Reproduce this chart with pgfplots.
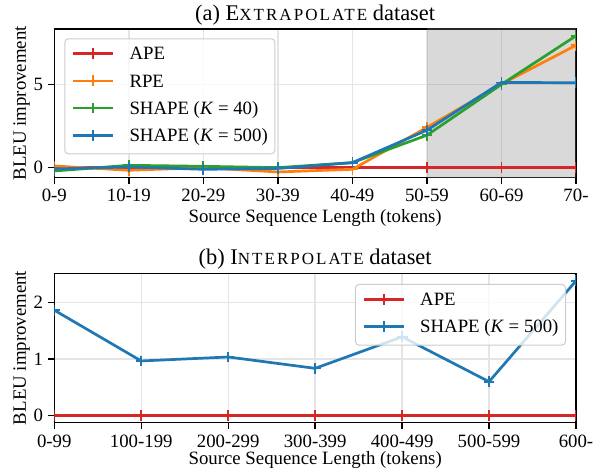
\documentclass[border=0pt]{standalone}
\usepackage{fontspec}
\setmainfont{Liberation Serif}
\usepackage{pgfplots}
\pgfplotsset{compat=1.18}
\usepackage{pgfplotstable}
\definecolor{cred}{HTML}{D62728}
\definecolor{corange}{HTML}{FF7F0E}
\definecolor{cgreen}{HTML}{2CA02C}
\definecolor{cblue}{HTML}{1F77B4}
\newcommand{\fsc}[1]{{\fontsize{17}{20}\selectfont\addfontfeature{LetterSpace=12}#1}}
\newcommand{\Keq}[1]{(\textit{K}\hspace{0.25em}=\hspace{0.25em}#1)}

\pgfplotstableread{
x ape rpe kforty kfivehundred
0 0 0.10 -0.20 -0.08
1 0 -0.16 0.14 0.04
2 0 0.00 0.08 -0.10
3 0 -0.26 0.00 -0.05
4 0 -0.10 0.30 0.30
5 0 2.42 1.95 2.25
6 0 5.02 5.00 5.12
7 0 7.35 7.92 5.10
}\extrap

\pgfplotstableread{
x ape kfivehundred
0 0 1.86
1 0 0.965
2 0 1.035
3 0 0.835
4 0 1.39
5 0 0.60
6 0 2.376
}\interp

\pgfplotsset{
  common/.style={
    scale only axis, width=521.7pt, anchor=south west,
    tick align=outside, tick pos=left, major tick length=6.3pt,
    every tick/.style={black, line width=1.4pt},
    axis line style={black, line width=1.4pt},
    grid=major, major grid style={black!10, line width=1.4pt},
    xticklabel style={anchor=base, yshift=-18.1pt},
    yticklabel style={anchor=east, inner sep=0pt, xshift=-4.7pt},
    /pgf/number format/assume math mode=true,
    clip marker paths=true,
    every axis title shift=0pt,
    title style={at={(axis description cs:0.5,1)}, anchor=base, inner sep=0pt, yshift=8.7pt, font=\fontsize{22.4}{26}\selectfont},
    ylabel style={at={(axis description cs:-0.0543,0.5)}, anchor=base, inner sep=0pt},
    legend style={fill=white, fill opacity=0.8, text opacity=1, draw=black!20, line width=1pt,
      rounded corners=3.5pt, inner xsep=7pt, inner ysep=8.2pt,
      nodes={inner sep=0pt, text height=13pt, text depth=4pt},
      cells={anchor=base west}, row sep=10.2pt, column sep=15pt},
    legend image code/.code={\draw[mark repeat=2,mark phase=2,#1] plot coordinates {(0pt,6.3pt)(20pt,6.3pt)(40pt,6.3pt)};},
  },
  ser/.style={color=#1, line width=2.7pt, mark=+, mark size=5.4pt, mark options={line width=1.8pt, solid}},
}

\begin{document}
\begin{tikzpicture}[font=\fontsize{18.8}{22.5}\selectfont]
\useasboundingbox (0,0) rectangle (602pt,473pt);
\begin{axis}[common, at={(54.3pt,295.7pt)}, height=148.3pt,
  xmin=0, xmax=7, ymin=-0.58, ymax=8.33,
  xtick={0,1,2,3,4,5,6,7},
  xticklabels={0-9,10-19,20-29,30-39,40-49,50-59,60-69,70-},
  ytick={0,5},
  title={(a) E\fsc{XTRAPOLATE} dataset},
  xlabel={Source Sequence Length (tokens)},
  xlabel style={at={(axis description cs:0.5,0)}, anchor=base, inner sep=0pt, yshift=-45.7pt},
  ylabel={BLEU improvement},
  legend style={at={(axis description cs:0,1)}, anchor=north west, xshift=10pt, yshift=-9.3pt},
]
\addplot[draw=none, fill=gray, fill opacity=0.3, forget plot] coordinates {(5,-1) (7,-1) (7,9) (5,9)} -- cycle;
\addplot[ser=cred] table[x=x, y=ape] {\extrap};
\addlegendentry{APE}
\addplot[ser=corange] table[x=x, y=rpe] {\extrap};
\addlegendentry{RPE}
\addplot[ser=cgreen] table[x=x, y=kforty] {\extrap};
\addlegendentry{SHAPE \Keq{40}}
\addplot[ser=cblue] table[x=x, y=kfivehundred] {\extrap};
\addlegendentry{SHAPE \Keq{500}}
\end{axis}

\begin{axis}[common, at={(54.3pt,50.3pt)}, height=149.4pt,
  xmin=0, xmax=6, ymin=-0.123, ymax=2.51,
  xtick={0,1,2,3,4,5,6},
  xticklabels={0-99,100-199,200-299,300-399,400-499,500-599,600-},
  ytick={0,1,2},
  title={(b) I\fsc{NTERPOLATE} dataset},
  xlabel={Source Sequence Length (tokens)},
  xlabel style={at={(axis description cs:0.5,0)}, anchor=base, inner sep=0pt, yshift=-41.7pt},
  ylabel={BLEU improvement},
  legend style={at={(axis description cs:1,1)}, anchor=north east, xshift=-10pt, yshift=-10.7pt},
]
\addplot[ser=cred] table[x=x, y=ape] {\interp};
\addlegendentry{APE}
\addplot[ser=cblue] table[x=x, y=kfivehundred] {\interp};
\addlegendentry{SHAPE \Keq{500}}
\end{axis}
\end{tikzpicture}
\end{document}
